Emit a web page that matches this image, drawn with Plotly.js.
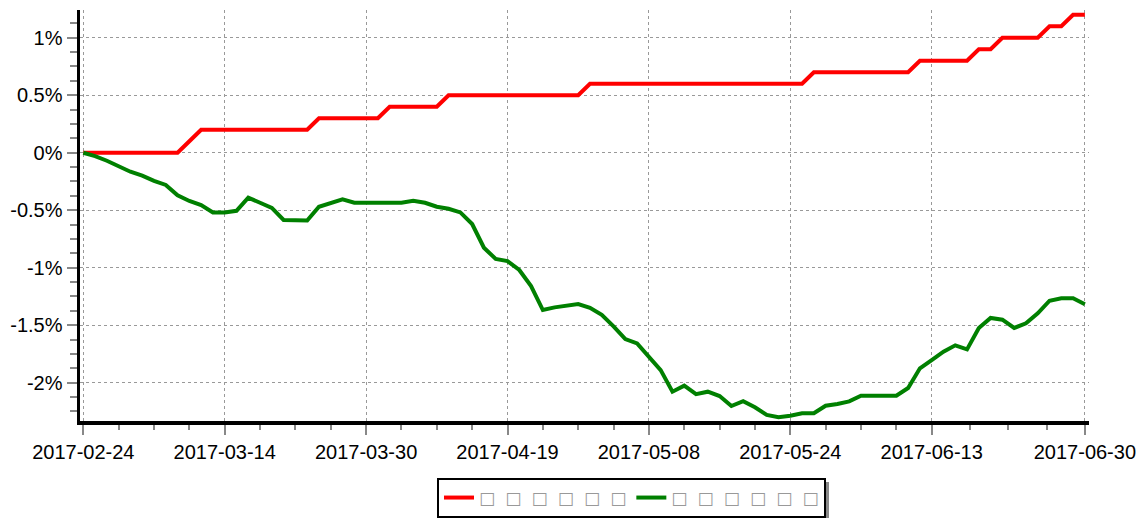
<!DOCTYPE html>
<html>
<head>
<meta charset="utf-8">
<script src="https://cdn.plot.ly/plotly-3.0.1.min.js"></script>
<style>html,body{margin:0;padding:0;background:#fff;}#chart{width:1144px;height:518px;}</style>
</head>
<body>
<div id="chart"></div>
<script>
// Trading days (category labels)
const dates = [
  "2017-02-24","2017-02-27","2017-02-28","2017-03-01","2017-03-02","2017-03-03","2017-03-06","2017-03-07","2017-03-08","2017-03-09",
  "2017-03-10","2017-03-13","2017-03-14","2017-03-15","2017-03-16","2017-03-17","2017-03-20","2017-03-21","2017-03-22","2017-03-23",
  "2017-03-24","2017-03-27","2017-03-28","2017-03-29","2017-03-30","2017-03-31","2017-04-05","2017-04-06","2017-04-07","2017-04-10",
  "2017-04-11","2017-04-12","2017-04-13","2017-04-14","2017-04-17","2017-04-18","2017-04-19","2017-04-20","2017-04-21","2017-04-24",
  "2017-04-25","2017-04-26","2017-04-27","2017-04-28","2017-05-02","2017-05-03","2017-05-04","2017-05-05","2017-05-08","2017-05-09",
  "2017-05-10","2017-05-11","2017-05-12","2017-05-15","2017-05-16","2017-05-17","2017-05-18","2017-05-19","2017-05-22","2017-05-23",
  "2017-05-24","2017-05-25","2017-05-26","2017-05-31","2017-06-01","2017-06-02","2017-06-05","2017-06-06","2017-06-07","2017-06-08",
  "2017-06-09","2017-06-12","2017-06-13","2017-06-14","2017-06-15","2017-06-16","2017-06-19","2017-06-20","2017-06-21","2017-06-22",
  "2017-06-23","2017-06-26","2017-06-27","2017-06-28","2017-06-29","2017-06-30"
];

// Series 1 (red), cumulative return in %
const redSeries = [
  0,0,0,0,0,0,0,0,0,0.1,
  0.2,0.2,0.2,0.2,0.2,0.2,0.2,0.2,0.2,0.2,
  0.3,0.3,0.3,0.3,0.3,0.3,0.4,0.4,0.4,0.4,
  0.4,0.5,0.5,0.5,0.5,0.5,0.5,0.5,0.5,0.5,
  0.5,0.5,0.5,0.6,0.6,0.6,0.6,0.6,0.6,0.6,
  0.6,0.6,0.6,0.6,0.6,0.6,0.6,0.6,0.6,0.6,
  0.6,0.6,0.7,0.7,0.7,0.7,0.7,0.7,0.7,0.7,
  0.7,0.8,0.8,0.8,0.8,0.8,0.9,0.9,1.0,1.0,
  1.0,1.0,1.1,1.1,1.2,1.2
];

// Series 2 (green), cumulative return in %
const greenSeries = [
  0,-0.03,-0.07,-0.12,-0.165,-0.2,-0.245,-0.28,-0.37,-0.42,
  -0.455,-0.52,-0.52,-0.505,-0.39,-0.435,-0.48,-0.585,-0.59,-0.59,
  -0.47,-0.435,-0.405,-0.435,-0.435,-0.435,-0.435,-0.435,-0.417,-0.435,
  -0.47,-0.487,-0.519,-0.62,-0.826,-0.924,-0.942,-1.02,-1.16,-1.368,
  -1.345,-1.327,-1.316,-1.348,-1.41,-1.51,-1.62,-1.658,-1.774,-1.89,
  -2.078,-2.026,-2.1,-2.078,-2.116,-2.203,-2.16,-2.214,-2.28,-2.3,
  -2.287,-2.266,-2.266,-2.2,-2.185,-2.162,-2.113,-2.113,-2.113,-2.113,
  -2.046,-1.875,-1.803,-1.73,-1.675,-1.71,-1.524,-1.437,-1.452,-1.524,
  -1.484,-1.397,-1.287,-1.266,-1.266,-1.318
];

// Legend names as they appear (unrenderable glyphs shown as boxes)
const SP = "\u2002\u200A";
const seriesNames = [
  ["□","□","□","□","□","□"].join(SP),
  ["□","□","□","□","□","□"].join(SP)
];

// Y tick values / labels
const yTickVals = [-2, -1.5, -1, -0.5, 0, 0.5, 1];
const yTickText = ["-2%", "-1.5%", "-1%", "-0.5%", "0%", "0.5%", "1%"];

// X major ticks: every 12 trading days plus the last day
const xMajorIdx = [0, 12, 24, 36, 48, 60, 72, dates.length - 1];
const xMajorText = xMajorIdx.map(i => dates[i]);
const xMinorIdx = [];
for (let k = 0; k < xMajorIdx.length - 1; k++) {
  const a = xMajorIdx[k], b = xMajorIdx[k + 1];
  for (let q = 1; q < 4; q++) xMinorIdx.push(a + (b - a) * q / 4);
}

const idx = dates.map((d, i) => i);

const font = "Liberation Sans, Arial, sans-serif";

const traces = [
  { x: idx, y: redSeries, text: dates, type: "scatter", mode: "lines", name: seriesNames[0],
    line: { color: "#ff0000", width: 4 }, hovertemplate: "%{text}: %{y}%<extra></extra>" },
  { x: idx, y: greenSeries, text: dates, type: "scatter", mode: "lines", name: seriesNames[1],
    line: { color: "#008000", width: 4 }, hovertemplate: "%{text}: %{y}%<extra></extra>" }
];

// plot area in px: x 80..1089, y 10..421
const px2x = p => (p - 80) / 1009;
const px2y = p => (421 - p) / 411;

const layout = {
  width: 1144, height: 518,
  margin: { l: 80, r: 55, t: 10, b: 97, pad: 0, autoexpand: false },
  paper_bgcolor: "#ffffff", plot_bgcolor: "#ffffff",
  font: { family: font, size: 20, color: "#000" },
  showlegend: true,
  legend: {
    orientation: "h", x: px2x(437), xanchor: "left", y: px2y(478), yanchor: "top",
    bordercolor: "#000", borderwidth: 2, bgcolor: "#fff",
    font: { family: "DejaVu Sans", size: 17, color: "#999" }
  },
  shapes: [
    { type: "rect", xref: "paper", yref: "paper", layer: "below",
      x0: px2x(441), x1: px2x(829), y0: px2y(482), y1: px2y(521),
      line: { width: 0 }, fillcolor: "#888" }
  ],
  xaxis: {
    type: "linear", range: [-0.28, 85.35],
    tickmode: "array", tickvals: xMajorIdx, ticktext: xMajorText,
    ticks: "outside", ticklen: 10, tickwidth: 2, tickcolor: "#888",
    minor: { tickmode: "array", tickvals: xMinorIdx, ticks: "outside", ticklen: 5, tickwidth: 2, tickcolor: "#888", showgrid: false },
    showgrid: true, gridcolor: "#999", griddash: "dot", gridwidth: 1,
    showline: true, linecolor: "#000", linewidth: 3.5,
    zeroline: false, automargin: false, tickfont: { family: font, size: 20, color: "#000" }
  },
  yaxis: {
    range: [-2.333, 1.241],
    tickmode: "array", tickvals: yTickVals, ticktext: yTickText,
    ticks: "outside", ticklen: 10, tickwidth: 2, tickcolor: "#888",
    minor: { dtick: 0.125, tick0: 0, ticks: "outside", ticklen: 7, tickwidth: 2, tickcolor: "#888", showgrid: false },
    showgrid: true, gridcolor: "#999", griddash: "dot", gridwidth: 1,
    showline: true, linecolor: "#000", linewidth: 3.5,
    zeroline: false, automargin: false, tickfont: { family: font, size: 20, color: "#000" }
  }
};

Plotly.newPlot("chart", traces, layout, { displayModeBar: false, staticPlot: true });
</script>
</body>
</html>
